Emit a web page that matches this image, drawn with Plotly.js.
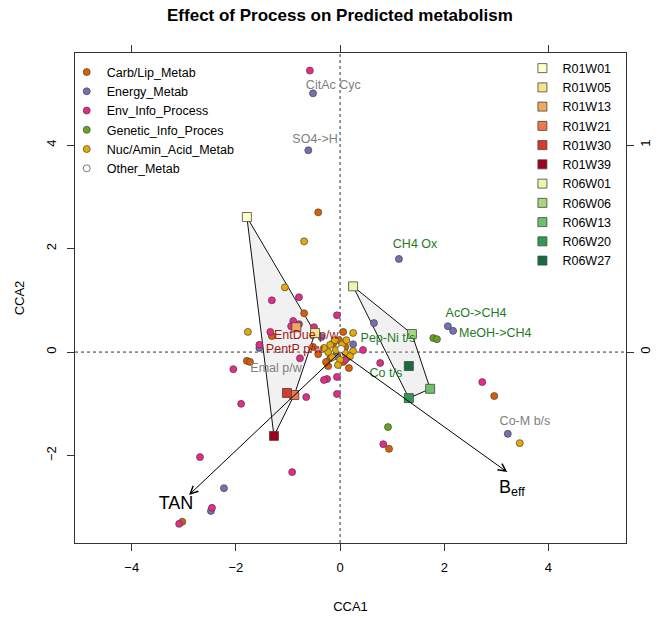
<!DOCTYPE html>
<html><head><meta charset="utf-8">
<script src="https://cdn.plot.ly/plotly-3.0.1.min.js"></script>
<style>body{margin:0;padding:0;background:#fff}#chart{width:660px;height:618px}</style>
</head><body><div id="chart"></div>
<script>
// ---- data ----
const categories = ["Carb/Lip_Metab","Energy_Metab","Env_Info_Process","Genetic_Info_Proces","Nuc/Amin_Acid_Metab","Other_Metab"];
const categoryColors = ["#D95F02","#7570B3","#E7298A","#66A61E","#E6AB02","#FFFFFF"];

const carbX = [-0.42,-0.69,-1.31,0.06,-0.42,-1.79,-1.73,-0.23,0.17,2.96,0.94,-3.03,-0.52,-0.13,0.10,-0.06,-0.19,0.15,0.06,-0.27,-0.02];
const carbY = [2.70,0.75,0.31,0.39,-0.04,-0.17,-0.19,-0.27,-0.31,-0.85,-1.87,-3.28,0.10,0.17,0.10,-0.06,-0.12,-0.10,-0.19,-0.19,0.23];
const energyX = [-0.52,-0.61,1.13,0.65,2.07,2.17,-0.36,-1.55,0.25,3.22,-2.23,-2.48,-0.08];
const energyY = [5.00,3.90,1.80,0.56,0.50,0.41,0.29,0.08,0.15,-1.58,-2.63,-3.07,-0.08];
const envX = [-0.58,-0.79,-1.31,-0.90,-0.79,-0.94,-0.50,-1.34,-0.06,-1.55,0.44,-0.77,-2.05,0.77,-0.06,-0.25,-0.31,-0.65,-0.06,-1.90,-2.69,-0.92,-2.46,-3.09,2.73,0.83,0.10];
const envY = [5.44,1.06,1.00,0.60,0.54,0.50,0.48,0.39,0.71,0.14,0.04,-0.12,-0.33,-0.21,-0.48,-0.52,-0.54,-0.87,-0.81,-1.00,-2.03,-2.32,-3.01,-3.32,-0.58,-1.78,-0.15];
const geneticX = [1.79,1.86,0.92];
const geneticY = [0.27,0.25,-1.45];
const nucX = [-0.69,-1.06,-1.77,0.25,0.25,3.45,-0.19,-0.10,0.04,-0.23,-0.08,0.10,-0.15,0.00,0.19,-0.31,-0.04,0.12];
const nucY = [2.14,1.25,0.39,0.37,0.02,-1.76,0.14,0.23,0.15,0.00,0.04,-0.02,-0.10,-0.15,-0.08,0.08,-0.25,0.23];
const otherX = [0.02];
const otherY = [0.06];

const sampleNames = ["R01W01","R01W05","R01W13","R01W21","R01W30","R01W39","R06W01","R06W06","R06W13","R06W20","R06W27"];
const sampleGroups = ["R01","R01","R01","R01","R01","R01","R06","R06","R06","R06","R06"];
const sampleColors = ["#FFFFCC","#F3E58A","#F2A65E","#EE7A4C","#D93A2B","#A0001E","#EEF5B0","#A8D67E","#6CC06A","#2E9A55","#1A6B40"];
const sampleX = [-1.79,-0.48,-0.84,-0.88,-1.02,-1.27,0.25,1.38,1.73,1.32,1.32];
const sampleY = [2.61,0.37,0.48,-0.83,-0.79,-1.62,1.27,0.35,-0.71,-0.89,-0.27];

const fnLabels = ["CitAc Cyc","SO4->H","CH4 Ox","AcO->CH4","MeOH->CH4","Pep-Ni t/s","Co t/s","EntDue p/w","PentP p/w","Emal p/w","Co-M b/s"];
const fnLabelX = [-0.13,-0.48,1.44,2.61,2.98,0.92,0.88,-0.65,-0.88,-1.23,3.55];
const fnLabelY = [5.14,4.11,2.08,0.73,0.35,0.25,-0.42,0.32,0.04,-0.33,-1.35];
const fnLabelColors = ["#808080","#808080","#1E7B1E","#1E7B1E","#1E7B1E","#1E7B1E","#1E7B1E","#9E1A1A","#9E1A1A","#808080","#808080"];

const envVarNames = ["TAN","B<sub>eff</sub>"];
const envVarX = [-2.90,3.21];
const envVarY = [-2.76,-2.32];
const envLabelX = [-3.15,3.30];
const envLabelY = [-2.95,-2.63];

const xTicks = [-4,-2,0,2,4];
const yTicks = [-2,0,2,4];
const xRange = [-5.09,5.49];
const yRange = [-3.69,5.78];
const axisScale = 4;

// ---- helpers ----
function hull(px, py){
  const pts = px.map((x,i)=>[x,py[i]]).sort((a,b)=>a[0]-b[0]||a[1]-b[1]);
  const cross=(o,a,b)=>(a[0]-o[0])*(b[1]-o[1])-(a[1]-o[1])*(b[0]-o[0]);
  const lower=[],upper=[];
  for(const p of pts){while(lower.length>=2&&cross(lower[lower.length-2],lower[lower.length-1],p)<=0)lower.pop();lower.push(p);}
  for(let i=pts.length-1;i>=0;i--){const p=pts[i];while(upper.length>=2&&cross(upper[upper.length-2],upper[upper.length-1],p)<=0)upper.pop();upper.push(p);}
  upper.pop();lower.pop();
  const h=lower.concat(upper);h.push(h[0]);
  return h;
}

const FONT = "Liberation Sans, Arial, Helvetica, sans-serif";
const traces = [];

// hulls
["R01","R06"].forEach(g=>{
  const xs=[],ys=[];
  sampleGroups.forEach((gg,i)=>{if(gg===g){xs.push(sampleX[i]);ys.push(sampleY[i]);}});
  const h=hull(xs,ys);
  traces.push({type:"scatter",mode:"lines",x:h.map(p=>p[0]),y:h.map(p=>p[1]),fill:"toself",
    fillcolor:"rgba(200,200,200,0.25)",line:{color:"#111",width:1},showlegend:false,hoverinfo:"skip"});
});

// points by category
const catX=[carbX,energyX,envX,geneticX,nucX,otherX];
const catY=[carbY,energyY,envY,geneticY,nucY,otherY];
categories.forEach((c,i)=>{
  traces.push({type:"scatter",mode:"markers",name:c,x:catX[i],y:catY[i],legend:"legend",
    marker:{symbol:"circle",size:7,color:categoryColors[i],line:{color:"#444",width:0.7}}});
});

// samples
sampleNames.forEach((s,i)=>{
  traces.push({type:"scatter",mode:"markers",name:s,x:[sampleX[i]],y:[sampleY[i]],legend:"legend2",
    marker:{symbol:"square",size:9,color:sampleColors[i],line:{color:"#444",width:0.8}}});
});

// function labels
traces.push({type:"scatter",mode:"text",x:fnLabelX,y:fnLabelY,text:fnLabels,showlegend:false,
  textfont:{family:FONT,size:12.5,color:fnLabelColors},hoverinfo:"skip"});

// env vector labels
traces.push({type:"scatter",mode:"text",x:envLabelX,y:envLabelY,text:envVarNames,showlegend:false,
  textfont:{family:FONT,size:18,color:"#000"},hoverinfo:"skip"});

// dummy trace to activate secondary axes
traces.push({type:"scatter",x:[],y:[],xaxis:"x2",yaxis:"y2",showlegend:false,hoverinfo:"skip"});

const annotations = envVarX.map((x,i)=>({x:x,y:envVarY[i],ax:0,ay:0,axref:"x",ayref:"y",xref:"x",yref:"y",
  text:"",showarrow:true,arrowhead:5,arrowsize:1.5,arrowwidth:1,arrowcolor:"#000",standoff:0,startstandoff:0}));

const layout = {
  width:660,height:618,
  margin:{l:75,r:34,t:53,b:75},
  paper_bgcolor:"#fff",plot_bgcolor:"#fff",
  font:{family:FONT,size:13,color:"#000"},
  title:{text:"<b>Effect of Process on Predicted metabolism</b>",font:{family:FONT,size:17,color:"#000"},
    x:0.515,xref:"container",xanchor:"center",y:0.975,yref:"container",yanchor:"middle"},
  xaxis:{range:xRange,tickvals:xTicks,ticks:"outside",ticklen:7,tickcolor:"#333",showline:true,mirror:true,
    linecolor:"#333",linewidth:1,showgrid:false,zeroline:false,tickfont:{size:13},ticklabelstandoff:5,
    title:{text:"CCA1",font:{size:13},standoff:28}},
  yaxis:{range:yRange,tickvals:yTicks,ticks:"outside",ticklen:7,tickcolor:"#333",showline:true,mirror:true,
    linecolor:"#333",linewidth:1,showgrid:false,zeroline:false,tickangle:-90,tickfont:{size:13},ticklabelstandoff:6,
    title:{text:"CCA2",font:{size:13},standoff:16}},
  xaxis2:{overlaying:"x",side:"top",anchor:"y",range:xRange.map(v=>v/axisScale),tickvals:[-1,0,1],ticks:"outside",ticklen:7,
    tickcolor:"#333",showticklabels:false,showline:false,showgrid:false,zeroline:false},
  yaxis2:{overlaying:"y",side:"right",anchor:"x",range:yRange.map(v=>v/axisScale),tickvals:[-1,0,1],ticks:"outside",ticklen:7,
    tickcolor:"#333",showline:false,showgrid:false,zeroline:false,tickangle:-90,tickfont:{size:13}},
  shapes:[
    {type:"line",xref:"x",yref:"paper",x0:0,x1:0,y0:0,y1:1,line:{color:"#333",width:1,dash:"dot"},layer:"below"},
    {type:"line",xref:"paper",yref:"y",x0:0,x1:1,y0:0,y1:0,line:{color:"#333",width:1,dash:"dot"},layer:"below"}
  ],
  annotations:annotations,
  legend:{x:-0.015,xanchor:"left",y:0.991,yanchor:"top",bgcolor:"rgba(0,0,0,0)",borderwidth:0,font:{size:12.5},itemwidth:30,tracegroupgap:0},
  legend2:{x:0.812,xanchor:"left",y:0.999,yanchor:"top",bgcolor:"rgba(0,0,0,0)",borderwidth:0,font:{size:12.5},itemwidth:30,tracegroupgap:0},
  showlegend:true
};

Plotly.newPlot("chart",traces,layout,{displayModeBar:false,staticPlot:true});
</script></body></html>
